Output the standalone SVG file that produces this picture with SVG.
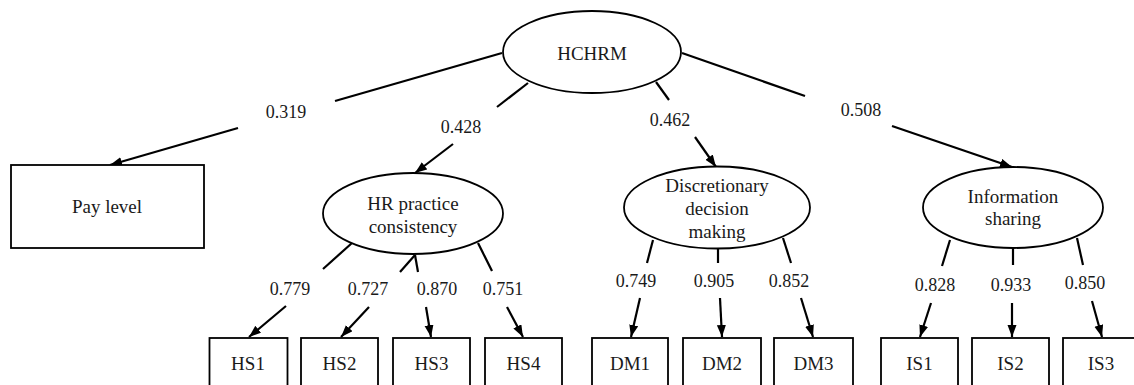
<svg xmlns="http://www.w3.org/2000/svg" width="1134" height="385" viewBox="0 0 1134 385">
<defs>
<marker id="arr" markerUnits="userSpaceOnUse" markerWidth="13" markerHeight="10" refX="12" refY="4.5" orient="auto">
<path d="M0,0 L12,4.5 L0,9 z" fill="#000"/>
</marker>
<style>
text{font-family:'Liberation Serif','Times New Roman',Tinos,'DejaVu Serif',serif;fill:#1a1a1a;text-anchor:middle}
.n{fill:#fff;stroke:#000;stroke-width:1.8}
.t{font-size:19px}
.v{font-size:18px}
.c line{stroke:#000;stroke-width:2.2;fill:none}
.c line.a{marker-end:url(#arr)}
</style>
</defs>
<rect width="1134" height="385" fill="#fff"/>

<g class="c" id="connectors">
<line x1="502" y1="53" x2="335" y2="101"/><line class="a" x1="238" y1="128" x2="110" y2="165"/>
<line x1="528" y1="83" x2="497" y2="107"/><line class="a" x1="453" y1="144" x2="415" y2="173"/>
<line x1="656" y1="82" x2="669" y2="100"/><line class="a" x1="695" y1="137" x2="716" y2="167"/>
<line x1="682" y1="53" x2="805" y2="96"/><line class="a" x1="892" y1="126" x2="1012" y2="167"/>

<line x1="352" y1="243" x2="323" y2="269"/><line class="a" x1="286" y1="306" x2="249" y2="337"/>
<line x1="415" y1="255" x2="400" y2="272"/><line class="a" x1="369" y1="307" x2="341" y2="337"/>
<line x1="415" y1="255" x2="418" y2="272"/><line class="a" x1="426" y1="307" x2="431" y2="337"/>
<line x1="478" y1="243" x2="492" y2="271"/><line class="a" x1="507" y1="307" x2="523" y2="337"/>

<line x1="653" y1="240" x2="647" y2="263"/><line class="a" x1="640" y1="298" x2="631" y2="337"/>
<line x1="718" y1="249" x2="718" y2="263"/><line class="a" x1="720" y1="298" x2="722" y2="337"/>
<line x1="783" y1="238" x2="791" y2="263"/><line class="a" x1="801" y1="298" x2="813" y2="337"/>

<line x1="950" y1="240" x2="942" y2="266"/><line class="a" x1="931" y1="303" x2="920" y2="337"/>
<line x1="1013" y1="249" x2="1013" y2="265"/><line class="a" x1="1012" y1="303" x2="1012" y2="337"/>
<line x1="1077" y1="238" x2="1083" y2="265"/><line class="a" x1="1092" y1="301" x2="1102" y2="337"/>
</g>

<g id="weights" font-family="Liberation Serif, serif">
<text class="v" x="286" y="118">0.319</text>
<text class="v" x="461" y="133">0.428</text>
<text class="v" x="670" y="126">0.462</text>
<text class="v" x="861" y="116">0.508</text>
<text class="v" x="290" y="295">0.779</text>
<text class="v" x="368" y="295">0.727</text>
<text class="v" x="437" y="295">0.870</text>
<text class="v" x="503" y="295">0.751</text>
<text class="v" x="636" y="287">0.749</text>
<text class="v" x="714" y="287">0.905</text>
<text class="v" x="789" y="287">0.852</text>
<text class="v" x="935" y="291">0.828</text>
<text class="v" x="1011" y="291">0.933</text>
<text class="v" x="1085" y="289">0.850</text>
</g>

<g id="hchrm"><ellipse class="n" cx="592" cy="52" rx="89" ry="41"/><text class="t" x="592" y="60">HCHRM</text></g>
<g id="pay"><rect class="n" x="11" y="165" width="193" height="83"/><text class="t" x="107" y="213">Pay level</text></g>
<g id="hr"><ellipse class="n" cx="413" cy="213.5" rx="90" ry="40.5"/><text class="t" x="413" y="210">HR practice</text><text class="t" x="413" y="233">consistency</text></g>
<g id="ddm"><ellipse class="n" cx="717" cy="207.5" rx="93" ry="41"/><text class="t" x="717" y="192">Discretionary</text><text class="t" x="717" y="215">decision</text><text class="t" x="717" y="238">making</text></g>
<g id="is"><ellipse class="n" cx="1013" cy="207.5" rx="90" ry="40.5"/><text class="t" x="1013" y="203">Information</text><text class="t" x="1013" y="225">sharing</text></g>

<g id="hs1"><rect class="n" x="209.5" y="338" width="78" height="60"/><text class="t" x="248" y="370">HS1</text></g>
<g id="hs2"><rect class="n" x="301" y="338" width="77" height="60"/><text class="t" x="339.5" y="370">HS2</text></g>
<g id="hs3"><rect class="n" x="393" y="338" width="77" height="60"/><text class="t" x="431.5" y="370">HS3</text></g>
<g id="hs4"><rect class="n" x="485" y="338" width="77" height="60"/><text class="t" x="523.5" y="370">HS4</text></g>
<g id="dm1"><rect class="n" x="592" y="338" width="76" height="60"/><text class="t" x="630" y="370">DM1</text></g>
<g id="dm2"><rect class="n" x="683" y="338" width="78" height="60"/><text class="t" x="722" y="370">DM2</text></g>
<g id="dm3"><rect class="n" x="774" y="338" width="79" height="60"/><text class="t" x="813.5" y="370">DM3</text></g>
<g id="is1"><rect class="n" x="881" y="338" width="77" height="60"/><text class="t" x="919.5" y="370">IS1</text></g>
<g id="is2"><rect class="n" x="972" y="338" width="77" height="60"/><text class="t" x="1010.5" y="370">IS2</text></g>
<g id="is3"><rect class="n" x="1063" y="338" width="80" height="60"/><text class="t" x="1101" y="370">IS3</text></g>
</svg>
